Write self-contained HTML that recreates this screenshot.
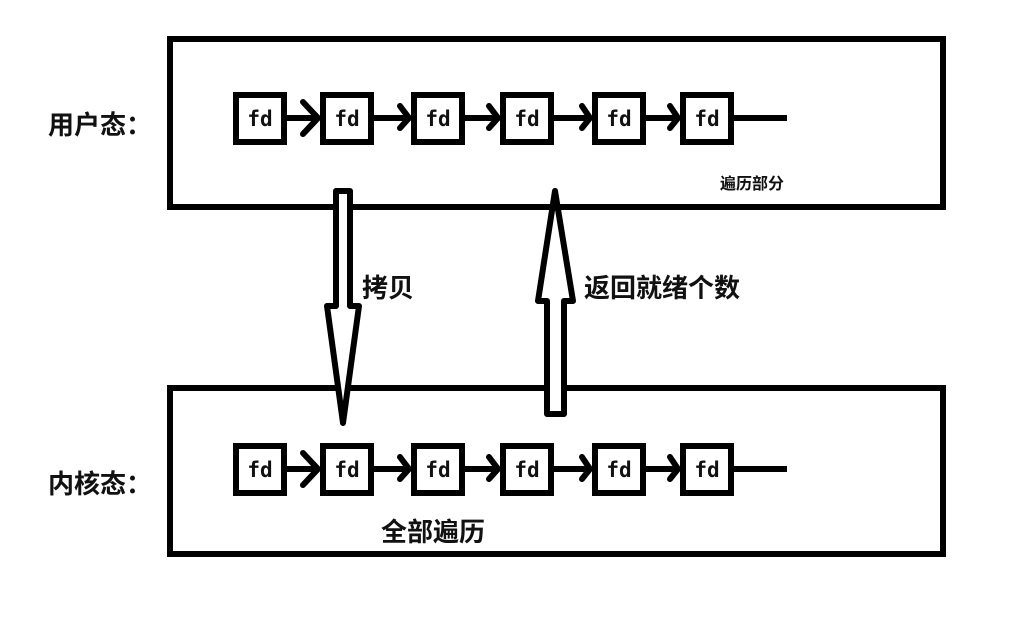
<!DOCTYPE html>
<html><head><meta charset="utf-8"><style>
body{margin:0;background:#fff;}
svg{display:block}
text{font-family:"Liberation Sans","Noto Sans CJK SC",sans-serif;font-weight:bold;fill:#111}
.fd{font-family:"DejaVu Sans Mono","Liberation Mono",monospace;font-size:21px;font-weight:bold}
</style></head><body>
<svg width="1017" height="622" viewBox="0 0 1017 622" xmlns="http://www.w3.org/2000/svg">
<g fill="none" stroke="#000" stroke-width="6">
<rect x="170" y="39" width="773" height="168"/>
<rect x="170" y="388" width="773" height="166"/>
</g>
<g id="row">
<g fill="#fff" stroke="#000" stroke-width="6">
<rect x="236" y="95" width="48" height="47"/>
<rect x="323" y="95" width="48" height="47"/>
<rect x="414" y="95" width="48" height="47"/>
<rect x="503" y="95" width="48" height="47"/>
<rect x="595" y="95" width="48" height="47"/>
<rect x="683" y="95" width="48" height="47"/>
</g>
<g stroke="#000" stroke-width="6" stroke-linecap="round" fill="none">
<line x1="287" y1="118" x2="318" y2="118"/><polyline points="303,102 318,118 303,134"/>
<line x1="374" y1="118" x2="409" y2="118"/><polyline points="400,106 409,118 400,128"/>
<line x1="465" y1="118" x2="498" y2="118"/><polyline points="489,106 498,118 489,128"/>
<line x1="554" y1="118" x2="590" y2="118"/><polyline points="582,106 590,118 582,128"/>
<line x1="646" y1="118" x2="678" y2="118"/><polyline points="670,106 678,118 670,128"/>
<line x1="734" y1="118" x2="787" y2="118" stroke-linecap="butt"/>
</g>
<g text-anchor="middle">
<text class="fd" x="260" y="126">fd</text><text class="fd" x="347" y="126">fd</text>
<text class="fd" x="438" y="126">fd</text><text class="fd" x="527" y="126">fd</text>
<text class="fd" x="619" y="126">fd</text><text class="fd" x="707" y="126">fd</text>
</g>
</g>
<use href="#row" y="351"/>
<g fill="#fff" stroke="#000" stroke-width="6" stroke-linejoin="round">
<polygon points="336,191 350,191 350,306 359,306 343,423 327,306 336,306"/>
<polygon points="555,191 573,301 564,301 564,414 547,414 547,301 538,301"/>
</g>
<text x="48" y="134" font-size="26">用户态：</text>
<text x="48" y="493" font-size="26">内核态：</text>
<text x="720" y="189" font-size="16">遍历部分</text>
<text x="362" y="297" font-size="26">拷贝</text>
<text x="584" y="297" font-size="26">返回就绪个数</text>
<text x="381" y="541" font-size="26">全部遍历</text>
</svg>
</body></html>
